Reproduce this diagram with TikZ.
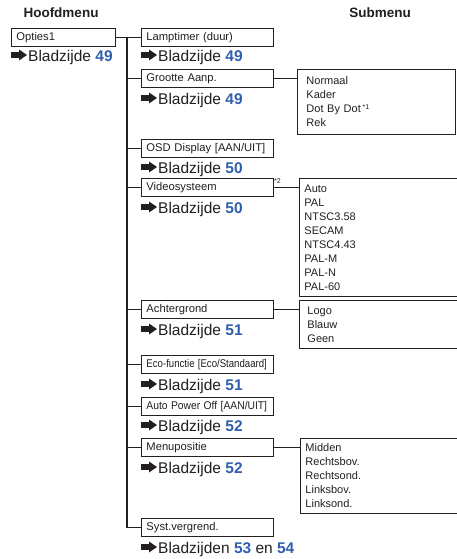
\documentclass[tikz,border=0pt]{standalone}
\usepackage{fontspec}
\setmainfont{Liberation Sans}
\usepackage{graphicx}
\definecolor{ink}{HTML}{231F20}
\definecolor{pblue}{HTML}{2F5FAE}
\newcommand{\pgnum}[1]{\textbf{\color{pblue}#1}}
\tikzset{
  mbox/.style={draw=ink, line width=0.9pt, anchor=north west, minimum height=18pt,
    text width=#1, inner xsep=5pt, inner ysep=0pt, align=left,
    font=\fontsize{11.2}{13}\selectfont, text=ink},
  sbox/.style={draw=ink, line width=0.9pt, anchor=north west, align=left,
    inner ysep=0pt, font=\fontsize{11}{14}\selectfont, text=ink},
  pagelbl/.style={anchor=base west, inner sep=0pt, font=\fontsize{15.5}{17}\selectfont, text=ink},
  head/.style={font=\bfseries\fontsize{13.5}{15}\selectfont, text=ink, inner sep=0pt},
  conn/.style={draw=ink, line width=1.1pt},
  pagearrow/.pic={\fill[ink] (0,-2.8) -- (8,-2.8) -- (8,-5.5) -- (16,0) -- (8,5.5) -- (8,2.8) -- (0,2.8) -- cycle;}
}
\begin{document}
\begin{tikzpicture}[x=1pt,y=-1pt]
\clip (0,0) rectangle (457,559);
\fill[white] (0,0) rectangle (457,559);

% headings
\node[head] (hm) at (61,13) {Hoofdmenu};
\node[head] (sm) at (380,13) {Submenu};

% main menu
\node[mbox=94pt] (opties) at (11,28) {Opties1};
\pic at (11,55) {pagearrow};
\node[pagelbl] (p0) at (28,61.5) {Bladzijde \pgnum{49}};

% sub items
\node[mbox=122pt] (lamp) at (141,28) {Lamptimer (duur)};
\pic at (141,55) {pagearrow};
\node[pagelbl] (p1) at (158,61.5) {Bladzijde \pgnum{49}};

\node[mbox=122pt] (groot) at (141,69) {Grootte Aanp.};
\pic at (141,98) {pagearrow};
\node[pagelbl] (p2) at (158,104.5) {Bladzijde \pgnum{49}};

\node[mbox=122pt] (osd) at (141,139) {OSD Display [AAN/UIT]};
\pic at (141,167) {pagearrow};
\node[pagelbl] (p3) at (158,173.5) {Bladzijde \pgnum{50}};

\node[mbox=122pt] (video) at (141,178) {Videosysteem};
\node[anchor=west, inner sep=0pt, font=\fontsize{7}{8}\selectfont, text=ink] (n2) at (274,181) {*2};
\pic at (141,207) {pagearrow};
\node[pagelbl] (p4) at (158,213.5) {Bladzijde \pgnum{50}};

\node[mbox=122pt] (achter) at (141,300) {Achtergrond};
\pic at (141,329) {pagearrow};
\node[pagelbl] (p5) at (158,335.5) {Bladzijde \pgnum{51}};

\node[mbox=122pt] (eco) at (141,355) {\scalebox{0.86}[1]{Eco-functie [Eco/Standaard]}};
\pic at (141,384) {pagearrow};
\node[pagelbl] (p6) at (158,390.5) {Bladzijde \pgnum{51}};

\node[mbox=122pt] (apo) at (141,397) {\scalebox{0.92}[1]{Auto Power Off [AAN/UIT]}};
\pic at (141,425) {pagearrow};
\node[pagelbl] (p7) at (158,431.5) {Bladzijde \pgnum{52}};

\node[mbox=122pt] (menup) at (141,438) {Menupositie};
\pic at (141,467) {pagearrow};
\node[pagelbl] (p8) at (158,473.5) {Bladzijde \pgnum{52}};

\node[mbox=122pt] (syst) at (141,518) {Syst.vergrend.};
\pic at (141,547) {pagearrow};
\node[pagelbl] (p9) at (158,553.5) {Bladzijden \pgnum{53} en \pgnum{54}};

% submenus
\node[sbox, minimum height=65pt, text width=140pt, inner xsep=9pt] (sgroot) at (297,69)
  {Normaal\\Kader\\Dot By Dot\,\raisebox{0.5ex}{\fontsize{7}{8}\selectfont *1}\\Rek};
\node[sbox, minimum height=118pt, text width=160pt, inner xsep=5pt] (svideo) at (299,178)
  {Auto\\PAL\\NTSC3.58\\SECAM\\NTSC4.43\\PAL-M\\PAL-N\\PAL-60};
\node[sbox, minimum height=48pt, text width=160pt, inner xsep=8pt] (sachter) at (299,300)
  {Logo\\Blauw\\Geen};
\node[sbox, minimum height=75pt, text width=160pt, inner xsep=5pt] (smenup) at (300,438)
  {Midden\\Rechtsbov.\\Rechtsond.\\Linksbov.\\Linksond.};

% connectors
\coordinate (jt) at (127,37);
\draw[conn] (opties.east) -- (lamp.west);
\draw[conn] (jt) |- (syst.west);
\foreach \b in {groot,osd,video,achter,eco,apo,menup}
  \draw[conn] (jt |- \b.west) -- (\b.west);
\draw[conn] (groot.east) -- (sgroot.west |- groot.east);
\draw[conn] (video.east) -- (svideo.west |- video.east);
\draw[conn] (achter.east) -- (sachter.west |- achter.east);
\draw[conn] (menup.east) -- (smenup.west |- menup.east);
\end{tikzpicture}
\end{document}
